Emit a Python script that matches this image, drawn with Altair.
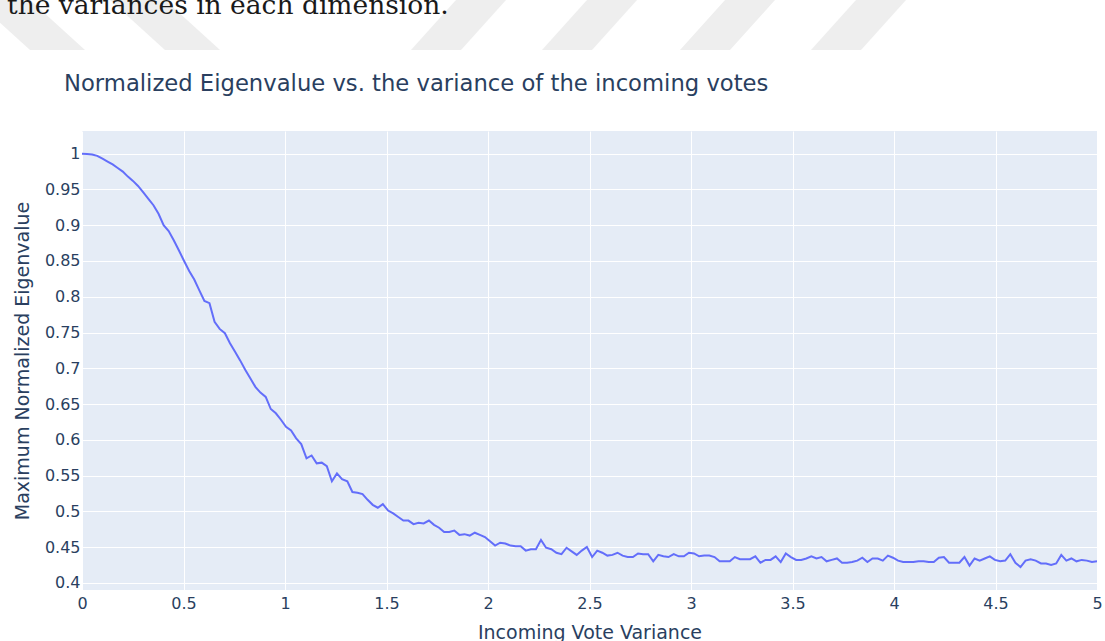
import altair as alt
import pandas as pd

# Sampled incoming-vote variances (200 samples over [0, 5])
variance = [
    0.000, 0.025, 0.050, 0.075, 0.101, 0.126, 0.151, 0.176, 0.201, 0.226,
    0.251, 0.276, 0.302, 0.327, 0.352, 0.377, 0.402, 0.427, 0.452, 0.477,
    0.503, 0.528, 0.553, 0.578, 0.603, 0.628, 0.653, 0.678, 0.704, 0.729,
    0.754, 0.779, 0.804, 0.829, 0.854, 0.879, 0.905, 0.930, 0.955, 0.980,
    1.005, 1.030, 1.055, 1.080, 1.106, 1.131, 1.156, 1.181, 1.206, 1.231,
    1.256, 1.281, 1.307, 1.332, 1.357, 1.382, 1.407, 1.432, 1.457, 1.482,
    1.508, 1.533, 1.558, 1.583, 1.608, 1.633, 1.658, 1.683, 1.709, 1.734,
    1.759, 1.784, 1.809, 1.834, 1.859, 1.884, 1.910, 1.935, 1.960, 1.985,
    2.010, 2.035, 2.060, 2.085, 2.111, 2.136, 2.161, 2.186, 2.211, 2.236,
    2.261, 2.286, 2.312, 2.337, 2.362, 2.387, 2.412, 2.437, 2.462, 2.487,
    2.513, 2.538, 2.563, 2.588, 2.613, 2.638, 2.663, 2.688, 2.714, 2.739,
    2.764, 2.789, 2.814, 2.839, 2.864, 2.889, 2.915, 2.940, 2.965, 2.990,
    3.015, 3.040, 3.065, 3.090, 3.116, 3.141, 3.166, 3.191, 3.216, 3.241,
    3.266, 3.291, 3.317, 3.342, 3.367, 3.392, 3.417, 3.442, 3.467, 3.492,
    3.518, 3.543, 3.568, 3.593, 3.618, 3.643, 3.668, 3.693, 3.719, 3.744,
    3.769, 3.794, 3.819, 3.844, 3.869, 3.894, 3.920, 3.945, 3.970, 3.995,
    4.020, 4.045, 4.070, 4.095, 4.121, 4.146, 4.171, 4.196, 4.221, 4.246,
    4.271, 4.296, 4.322, 4.347, 4.372, 4.397, 4.422, 4.447, 4.472, 4.497,
    4.523, 4.548, 4.573, 4.598, 4.623, 4.648, 4.673, 4.698, 4.724, 4.749,
    4.774, 4.799, 4.824, 4.849, 4.874, 4.899, 4.925, 4.950, 4.975, 5.000,
]

# Maximum normalized eigenvalue at each variance
eigenvalue = [
    1.000, 0.9998, 0.999, 0.997, 0.993, 0.989, 0.985, 0.980, 0.975, 0.968,
    0.962, 0.955, 0.946, 0.937, 0.928, 0.916, 0.900, 0.892, 0.879, 0.865,
    0.850, 0.836, 0.824, 0.809, 0.794, 0.791, 0.765, 0.755, 0.749, 0.735,
    0.723, 0.711, 0.698, 0.686, 0.674, 0.666, 0.660, 0.643, 0.637, 0.628,
    0.618, 0.613, 0.602, 0.594, 0.574, 0.578, 0.567, 0.568, 0.563, 0.542,
    0.553, 0.545, 0.542, 0.527, 0.526, 0.524, 0.516, 0.509, 0.505, 0.510,
    0.501, 0.497, 0.492, 0.487, 0.487, 0.482, 0.484, 0.483, 0.487, 0.481,
    0.477, 0.471, 0.471, 0.473, 0.467, 0.468, 0.466, 0.470, 0.467, 0.464,
    0.458, 0.452, 0.456, 0.455, 0.452, 0.451, 0.451, 0.445, 0.447, 0.447,
    0.460, 0.449, 0.447, 0.442, 0.440, 0.449, 0.444, 0.439, 0.445, 0.450,
    0.436, 0.445, 0.442, 0.438, 0.439, 0.442, 0.438, 0.436, 0.436, 0.441,
    0.440, 0.440, 0.430, 0.439, 0.437, 0.436, 0.440, 0.437, 0.437, 0.442,
    0.441, 0.437, 0.438, 0.438, 0.436, 0.430, 0.430, 0.430, 0.436, 0.433,
    0.433, 0.433, 0.437, 0.428, 0.432, 0.432, 0.437, 0.429, 0.441, 0.436,
    0.432, 0.432, 0.434, 0.437, 0.434, 0.436, 0.430, 0.432, 0.434, 0.428,
    0.428, 0.429, 0.431, 0.435, 0.429, 0.434, 0.434, 0.431, 0.438, 0.435,
    0.431, 0.429, 0.429, 0.429, 0.430, 0.430, 0.429, 0.429, 0.435, 0.436,
    0.428, 0.428, 0.428, 0.436, 0.424, 0.434, 0.431, 0.434, 0.437, 0.432,
    0.430, 0.431, 0.440, 0.428, 0.422, 0.431, 0.433, 0.431, 0.427, 0.427,
    0.425, 0.427, 0.439, 0.431, 0.434, 0.430, 0.432, 0.431, 0.429, 0.430,
]

x_ticks = [0, 0.5, 1, 1.5, 2, 2.5, 3, 3.5, 4, 4.5, 5]
y_ticks = [0.4, 0.45, 0.5, 0.55, 0.6, 0.65, 0.7, 0.75, 0.8, 0.85, 0.9, 0.95, 1.0]

chart_title = ["Normalized Eigenvalue vs. the variance of the incoming votes"]
caption = ["the variances in each dimension."]

# Page watermark bands above the figure (page pixels relative to plot origin)
band_id = ["a", "a", "b", "b", "c", "c", "d", "d", "e", "e", "f", "f"]
band_y = [-131, -81, -131, -81, -131, -81, -131, -81, -131, -81, -131, -81]
band_left = [-107, -52, 28, 83, 374, 329, 505, 460, 643, 598, 774, 729]
band_right = [-52, 3, 83, 138, 424, 379, 555, 510, 693, 648, 824, 779]

PLOT_W, PLOT_H = 1015, 459
PAD_L, PAD_T = 82, 131
FONT = "DejaVu Sans"
INK = "#2a3f5f"

df = pd.DataFrame({"variance": variance, "eigenvalue": eigenvalue})

line = alt.Chart(df).mark_line(color="#636efa", strokeWidth=2).encode(
    x=alt.X(
        "variance:Q",
        scale=alt.Scale(domain=[0, 5], nice=False, zero=False),
        axis=alt.Axis(
            values=x_ticks, format="~g", title="Incoming Vote Variance",
            labelBaseline="alphabetic", labelPadding=18, labelFlush=False,
            titleX=PLOT_W / 2, titleY=48, titleBaseline="alphabetic",
            titleAlign="center",
        ),
    ),
    y=alt.Y(
        "eigenvalue:Q",
        scale=alt.Scale(domain=[0.3899, 1.0318], nice=False, zero=False),
        axis=alt.Axis(
            values=y_ticks, format="~g", title="Maximum Normalized Eigenvalue",
            labelPadding=2, labelFlush=False,
            titleX=-54, titleY=PLOT_H / 2, titleBaseline="alphabetic",
            titleAlign="center", titleAngle=270,
        ),
    ),
)

bands = alt.Chart(pd.DataFrame({
    "band": band_id, "py": band_y, "xl": band_left, "xr": band_right,
})).mark_area(orient="horizontal", color="#eeeeee").encode(
    y=alt.Y("py:Q", scale=None, axis=None),
    x=alt.X("xl:Q", scale=None, axis=None),
    x2="xr:Q",
    detail="band:N",
)

page_text = alt.Chart(pd.DataFrame({"t": caption})).mark_text(
    font="DejaVu Serif", fontSize=26.5, align="left", baseline="alphabetic",
    color="#1a1a1a",
).encode(text="t:N", x=alt.value(7 - PAD_L), y=alt.value(13.5 - PAD_T))

title_text = alt.Chart(pd.DataFrame({"t": chart_title})).mark_text(
    font=FONT, fontSize=22.7, align="left", baseline="alphabetic", color=INK,
).encode(text="t:N", x=alt.value(64 - PAD_L), y=alt.value(91 - PAD_T))

chart = alt.layer(bands, page_text, title_text, line).resolve_scale(
    x="independent", y="independent"
).properties(
    width=PLOT_W,
    height=PLOT_H,
    autosize=alt.AutoSizeParams(type="none"),
    padding={"left": PAD_L, "top": PAD_T, "right": 1105 - PAD_L - PLOT_W,
             "bottom": 641 - PAD_T - PLOT_H},
    background="white",
).configure_view(
    fill="#e5ecf6", stroke=None,
).configure_axis(
    labelFont=FONT, labelFontSize=16, labelColor=INK,
    titleFont=FONT, titleFontSize=19, titleColor=INK, titleFontWeight="normal",
    grid=True, gridColor="white", gridWidth=1, domain=False, ticks=False,
    tickSize=0,
)

chart.save("out.html", embed_options={"renderer": "svg", "actions": False})
